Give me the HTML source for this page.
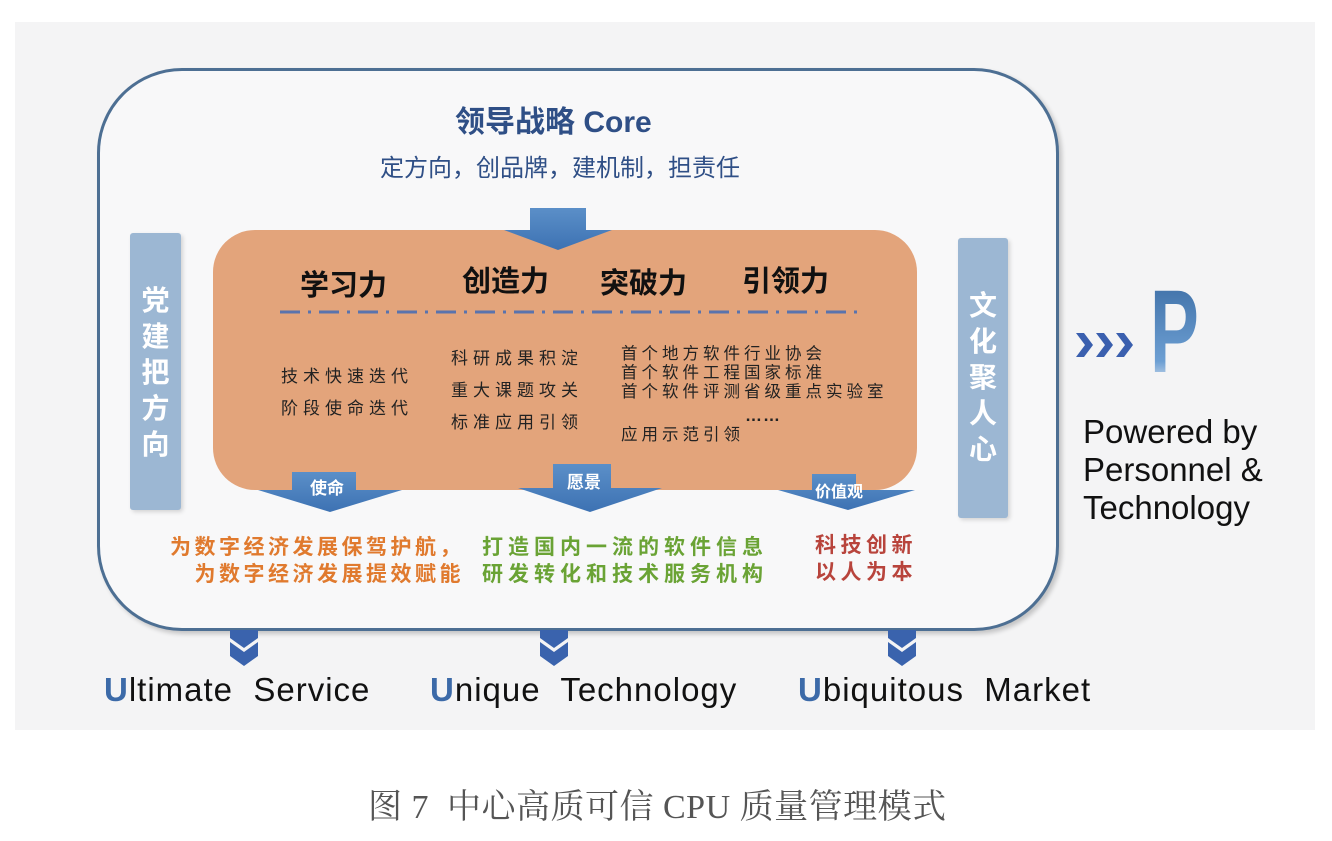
<!DOCTYPE html>
<html><head><meta charset="utf-8"><style>
body{margin:0;width:1332px;height:841px;background:#fff;position:relative;overflow:hidden;font-family:"Liberation Sans","Noto Sans CJK SC",sans-serif}
.a{position:absolute;white-space:nowrap}
.bar{position:absolute;background:#9cb7d3;color:#fff;font-weight:bold;font-size:28px;line-height:36px;text-align:center;border-radius:3px;box-shadow:2px 2px 4px rgba(0,0,0,.15)}
.h{font-weight:bold;font-size:29px;color:#111}
.s{font-size:17px;color:#222;letter-spacing:5px;line-height:22px}
.U{color:#3c6aa8;font-weight:bold}
.b{font-size:33px;color:#111;letter-spacing:1px}
</style></head><body>
<div class="a" style="left:15px;top:22px;width:1300px;height:708px;background:#f4f4f5"></div>
<div class="a" style="left:97px;top:68px;width:956px;height:557px;border:3px solid #4d6f93;border-radius:85px;background:#f8f8f9;box-shadow:3px 3px 5px rgba(0,0,0,.2)"></div>
<div class="a" style="left:213px;top:230px;width:704px;height:260px;border-radius:42px;background:#e3a47b"></div>
<div class="bar" style="left:130px;top:233px;width:51px;height:277px;padding-top:50px;box-sizing:border-box">党<br>建<br>把<br>方<br>向</div>
<div class="bar" style="left:958px;top:238px;width:50px;height:280px;padding-top:50px;box-sizing:border-box">文<br>化<br>聚<br>人<br>心</div>
<div class="a" style="left:455px;top:97px;font-size:30px;font-weight:bold;color:#2f4f86">领导战略 Core</div>
<div class="a" style="left:380px;top:148px;font-size:24px;color:#2f4f86">定方向，创品牌，建机制，担责任</div>
<svg class="a" style="left:0;top:0" width="1332" height="841">
<defs><linearGradient id="g" x1="0" y1="0" x2="0" y2="1"><stop offset="0" stop-color="#5b8fc8"/><stop offset="1" stop-color="#3d72b3"/></linearGradient></defs>
<polygon points="530,208 586,208 586,230 612,230 558,250 504,230 530,230" fill="url(#g)"/>
<polygon points="292,472 356,472 356,490 402,490 330,512 258,490 292,490" fill="url(#g)"/>
<polygon points="553,464 611,464 611,488 662,488 590,512 518,488 553,488" fill="url(#g)"/>
<polygon points="812,474 856,474 856,490 915,490 848,510 778,490 812,490" fill="url(#g)"/>
<line x1="280" y1="312" x2="860" y2="312" stroke="#5a73ad" stroke-width="3" stroke-dasharray="20,8,3,8"/>
<g fill="#3a5fae">
<polygon points="1076,333 1084,333 1093,345 1084,357 1076,357 1085,345"/>
<polygon points="1096,333 1104,333 1113,345 1104,357 1096,357 1105,345"/>
<polygon points="1116,333 1124,333 1133,345 1124,357 1116,357 1125,345"/>
</g>
<g fill="#3a63ad">
<polygon points="230,630 258,630 258,638 244,648 230,638"/><polygon points="230,642 244,652 258,642 258,656 244,666 230,656"/>
<polygon points="540,630 568,630 568,638 554,648 540,638"/><polygon points="540,642 554,652 568,642 568,656 554,666 540,656"/>
<polygon points="888,630 916,630 916,638 902,648 888,638"/><polygon points="888,642 902,652 916,642 916,656 902,666 888,656"/>
</g>
</svg>
<div class="a" style="left:1150px;top:273px;font-size:118px;font-weight:bold;line-height:118px;transform:scaleX(0.62);transform-origin:left top;background:linear-gradient(#3b6ca3,#6d9fd3 75%,#f4f4f5);-webkit-background-clip:text;background-clip:text;-webkit-text-fill-color:transparent">P</div>
<div class="a" style="left:310px;top:474px;font-size:17px;font-weight:bold;color:#fff">使命</div>
<div class="a" style="left:567px;top:468px;font-size:17px;font-weight:bold;color:#fff">愿景</div>
<div class="a" style="left:815px;top:478px;font-size:16px;font-weight:bold;color:#fff">价值观</div>
<div class="a h" style="left:300px;top:262px">学习力</div>
<div class="a h" style="left:462px;top:258px">创造力</div>
<div class="a h" style="left:600px;top:260px">突破力</div>
<div class="a h" style="left:742px;top:258px">引领力</div>
<div class="a s" style="left:281px;top:361px;line-height:32px">技术快速迭代<br>阶段使命迭代</div>
<div class="a s" style="left:451px;top:343px;line-height:32px">科研成果积淀<br>重大课题攻关<br>标准应用引领</div>
<div class="a s" style="left:621px;top:345px;line-height:19px;font-size:16.5px;letter-spacing:4px">首个地方软件行业协会<br>首个软件工程国家标准<br>首个软件评测省级重点实验室</div>
<div class="a s" style="left:745px;top:405px;font-weight:bold;letter-spacing:1px">……</div>
<div class="a s" style="left:621px;top:424px;font-size:16.5px;letter-spacing:4px">应用示范引领</div>
<div class="a" style="left:170px;top:534px;font-size:21px;font-weight:bold;color:#e07a2e;line-height:27px;letter-spacing:3.5px;text-align:right">为数字经济发展保驾护航，<br>为数字经济发展提效赋能</div>
<div class="a" style="left:482px;top:534px;font-size:21px;font-weight:bold;color:#6aa335;line-height:27px;letter-spacing:5px">打造国内一流的软件信息<br>研发转化和技术服务机构</div>
<div class="a" style="left:815px;top:532px;font-size:21px;font-weight:bold;color:#b8443c;line-height:27px;letter-spacing:4.5px">科技创新<br>以人为本</div>
<div class="a" style="left:1083px;top:413px;font-size:33px;line-height:38px;color:#111">Powered by<br>Personnel &amp;<br>Technology</div>
<div class="a b" style="left:104px;top:671px"><span class="U">U</span>ltimate&nbsp; Service</div>
<div class="a b" style="left:430px;top:671px"><span class="U">U</span>nique&nbsp; Technology</div>
<div class="a b" style="left:798px;top:671px"><span class="U">U</span>biquitous&nbsp; Market</div>
<div class="a" style="left:368px;top:779px;font-size:34px;letter-spacing:0.5px;color:#555;font-family:'Liberation Serif','Noto Serif CJK SC',serif">图 7&nbsp; 中心高质可信 CPU 质量管理模式</div>
</body></html>
